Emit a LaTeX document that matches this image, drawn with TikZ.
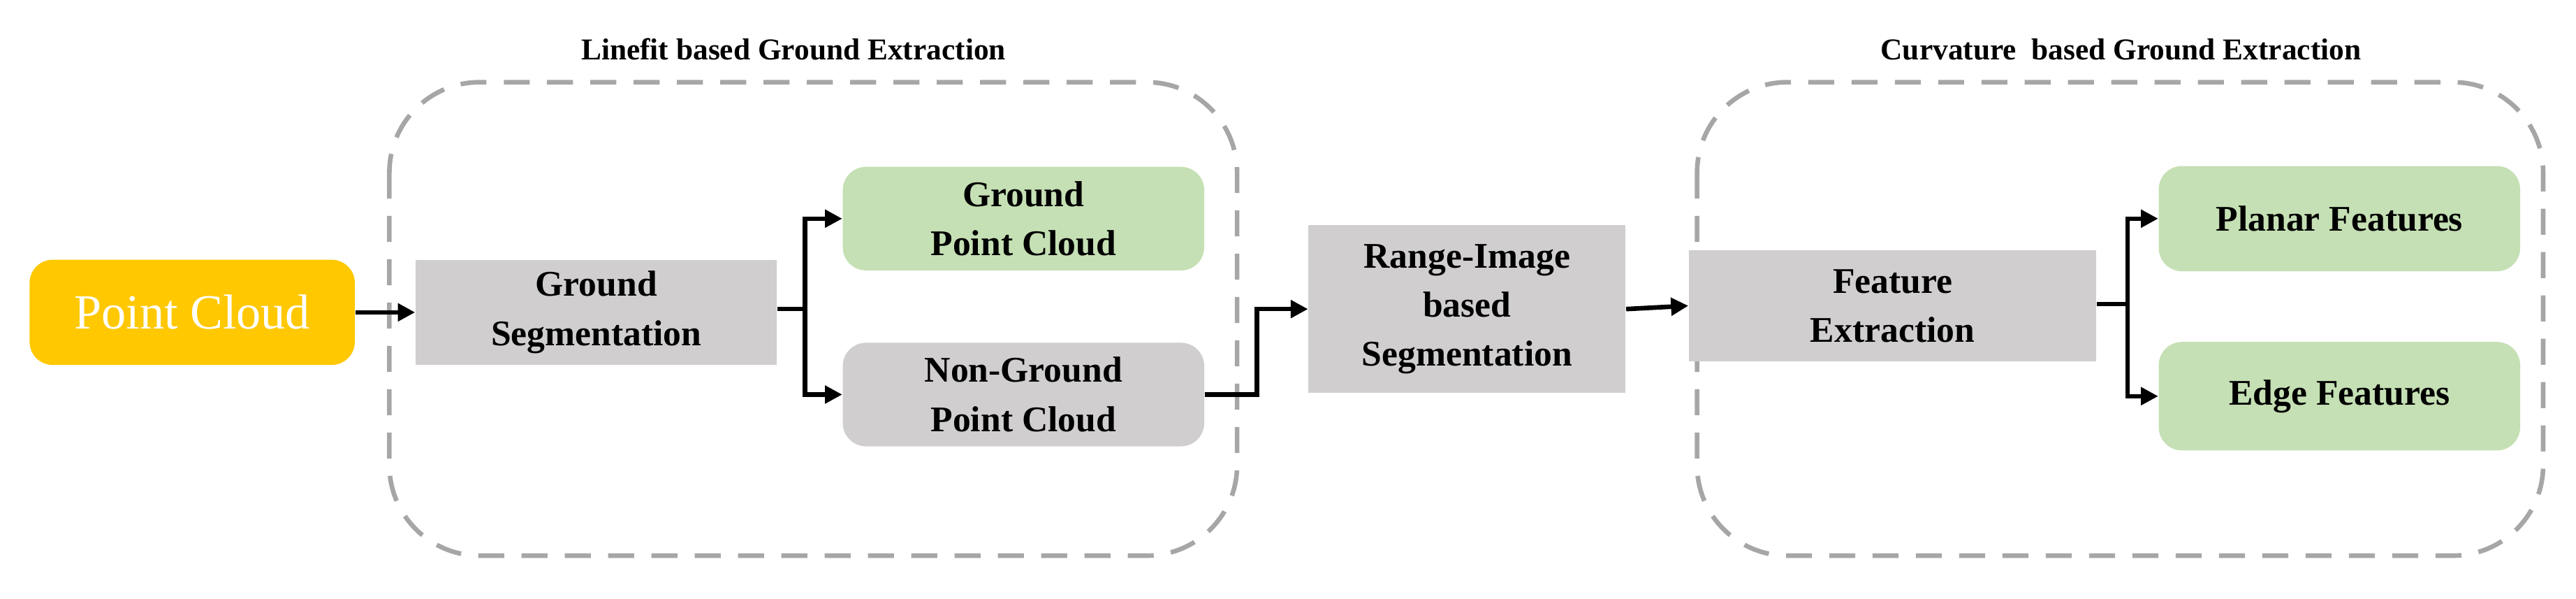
\documentclass[tikz,border=0pt]{standalone}
\usepackage{fontspec}
\setmainfont{Liberation Serif}
\usetikzlibrary{arrows.meta}
\definecolor{boxgray}{HTML}{D0CECE}
\definecolor{boxgreen}{HTML}{C5E0B4}
\definecolor{pcyellow}{HTML}{FFC800}
\definecolor{dashgray}{HTML}{A6A6A6}
\begin{document}
\begin{tikzpicture}[x=0.02cm,y=-0.02cm]
  \tikzset{
    blk/.style={fill=boxgray,align=center,font=\fontsize{12.5}{15}\selectfont\bfseries,inner sep=0pt},
    grn/.style={blk,fill=boxgreen,rounded corners=8pt},
    gry/.style={blk,rounded corners=8pt},
    grp/.style={draw=dashgray,line width=1.6pt,dash pattern=on 9pt off 6pt,rounded corners=1.1cm},
    ttl/.style={font=\fontsize{10.5}{12}\selectfont\bfseries},
    arr/.style={line width=1.6pt,-{Triangle[length=6pt,width=6pt]}},
    ln/.style={line width=1.6pt}
  }
  \useasboundingbox (0,0) rectangle (1568,364);
  % groups
  \draw[grp] (237,50) rectangle (753,338);
  \draw[grp] (1033,50) rectangle (1548,338);
  \node[ttl] (t1) at (483,30) {Linefit based Ground Extraction};
  \node[ttl] (t2) at (1291,30) {Curvature\ \ based Ground Extraction};
  % nodes
  \node[blk,fill=pcyellow,rounded corners=8pt,text=white,font=\fontsize{17}{20}\selectfont,
        minimum width=198\pgflinewidth,minimum width=3.96cm,minimum height=1.28cm] (pc) at (117,190) {Point Cloud};
  \node[blk,minimum width=4.4cm,minimum height=1.28cm] (gs) at (363,190) {Ground\\[2pt]Segmentation};
  \node[grn,minimum width=4.4cm,minimum height=1.26cm] (gpc) at (623,133) {Ground\\[2pt]Point Cloud};
  \node[gry,minimum width=4.4cm,minimum height=1.26cm] (ngpc) at (623,240) {Non-Ground\\[2pt]Point Cloud};
  \node[blk,minimum width=3.86cm,minimum height=2.04cm] (ri) at (893,188) {Range-Image\\[2pt]based\\[2pt]Segmentation};
  \node[blk,minimum width=4.96cm,minimum height=1.36cm] (fe) at (1152,186) {Feature\\[2pt]Extraction};
  \node[grn,minimum width=4.4cm,minimum height=1.28cm] (pf) at (1424,133) {Planar Features};
  \node[grn,minimum width=4.4cm,minimum height=1.32cm] (ef) at (1424,241) {Edge Features};
  % connectors
  \coordinate (s1) at (490,188);
  \coordinate (s2) at (765,188);
  \coordinate (s3) at (1295,185);
  \draw[arr] (pc.east) -- (gs.west);
  \draw[ln] (gs.east |- s1) -- (s1);
  \draw[arr] (s1) |- (gpc.west);
  \draw[arr] (s1) |- (ngpc.west);
  \draw[arr] (ngpc.east) -| (s2) -- (ri.west |- s2);
  \draw[arr] (ri.east) -- (fe.west);
  \draw[ln] (fe.east |- s3) -- (s3);
  \draw[arr] (s3) |- (pf.west);
  \draw[arr] (s3) |- (ef.west);
\end{tikzpicture}
\end{document}
